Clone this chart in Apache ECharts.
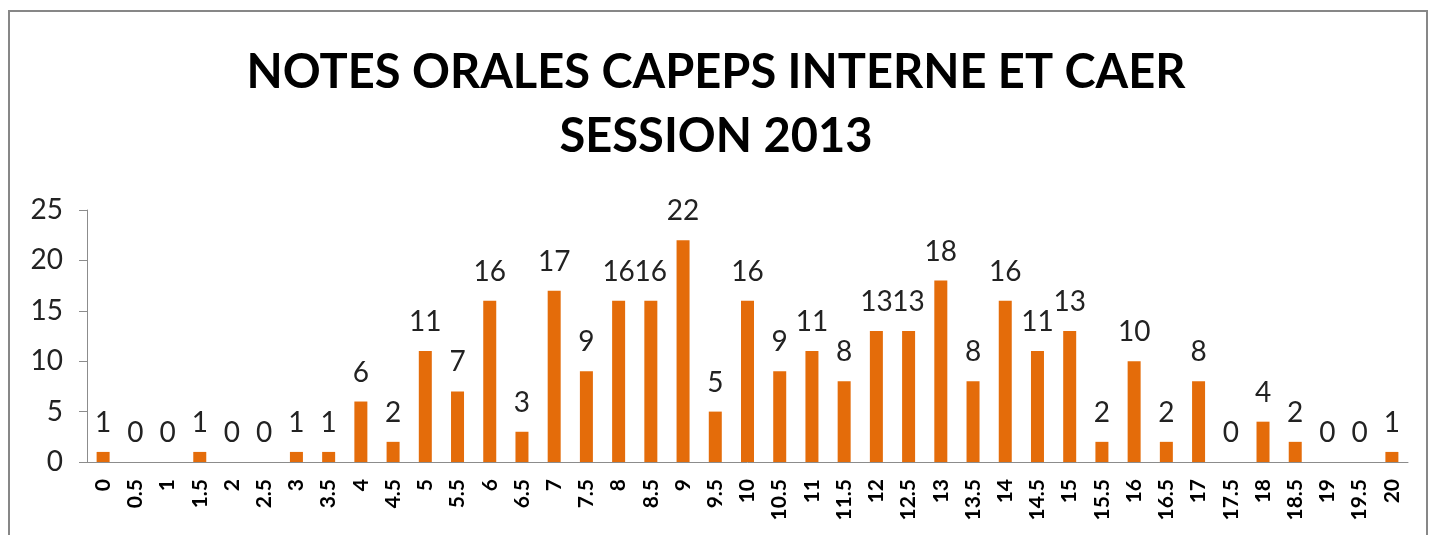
<!DOCTYPE html>
<html>
<head>
<meta charset="utf-8">
<script src="https://cdn.jsdelivr.net/npm/echarts@6/dist/echarts.min.js"></script>
<style>
  html, body { margin: 0; padding: 0; background: #fff; }
  #chart { width: 1432px; height: 535px; }
  .frame {
    position: absolute; left: 8px; top: 10px; width: 1416px; height: 600px;
    border: 2px solid #878787; pointer-events: none;
  }
</style>
</head>
<body>
<div id="chart"></div>
<div class="frame"></div>
<script>
// notes de 0 à 20 par demi-point
var notes = ['0','0.5','1','1.5','2','2.5','3','3.5','4','4.5','5','5.5','6','6.5','7','7.5','8','8.5','9','9.5',
  '10','10.5','11','11.5','12','12.5','13','13.5','14','14.5','15','15.5','16','16.5','17','17.5','18','18.5','19','19.5','20'];
// nombre de candidats
var effectifs = [1,0,0,1,0,0,1,1,6,2,11,7,16,3,17,9,16,16,22,5,
  16,9,11,8,13,13,18,8,16,11,13,2,10,2,8,0,4,2,0,0,1];
var yTicks = [0, 5, 10, 15, 20, 25];

var chart = echarts.init(document.getElementById('chart'));
var font = 'Lato, "Open Sans", sans-serif';

chart.setOption({
  animation: false,
  title: {
    text: 'NOTES ORALES CAPEPS INTERNE ET CAER\nSESSION 2013',
    left: 'center',
    top: 36,
    textStyle: { fontFamily: font, fontWeight: 'bold', fontSize: 47, lineHeight: 64, color: '#000' }
  },
  grid: { left: 87, right: 24, top: 210, bottom: 73 },
  xAxis: {
    type: 'category',
    data: notes,
    axisLine: { lineStyle: { color: '#8c8c8c' } },
    axisTick: { length: 6, lineStyle: { color: '#8c8c8c' } },
    axisLabel: { rotate: 90, interval: 0, fontFamily: font, fontWeight: 'bold', fontSize: 21, color: '#000', margin: 17 }
  },
  yAxis: {
    type: 'value',
    min: yTicks[0],
    max: yTicks[yTicks.length - 1],
    interval: 5,
    splitLine: { show: false },
    axisLine: { show: true, lineStyle: { color: '#8c8c8c' } },
    axisTick: { show: true, length: 8, lineStyle: { color: '#8c8c8c' } },
    axisLabel: { fontFamily: font, fontSize: 28, color: '#222', margin: 24 }
  },
  series: [{
    type: 'bar',
    data: effectifs,
    barWidth: 13,
    itemStyle: { color: '#E46C0A' },
    label: { show: true, position: 'top', distance: 15, fontFamily: font, fontSize: 28, color: '#222' }
  }]
});
</script>
</body>
</html>
